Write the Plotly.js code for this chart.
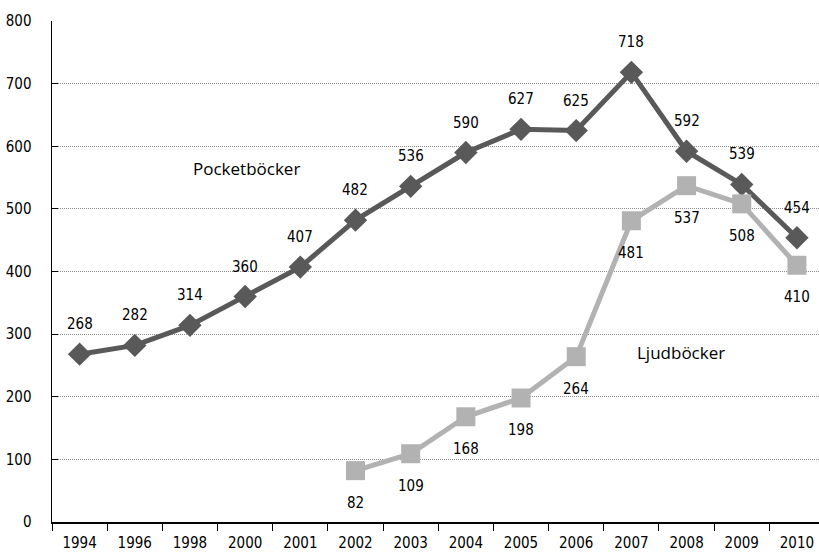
<!DOCTYPE html>
<html><head><meta charset="utf-8">
<script src="https://cdn.plot.ly/plotly-3.0.1.min.js"></script>
<style>html,body{margin:0;padding:0;background:#fff}</style>
</head><body><div id="chart" style="width:819px;height:554px"></div>
<script>
const years = ['1994','1996','1998','2000','2001','2002','2003','2004','2005','2006','2007','2008','2009','2010'];
const pocket = [268,282,314,360,407,482,536,590,627,625,718,592,539,454];
const ljudYears = ['2002','2003','2004','2005','2006','2007','2008','2009','2010'];
const ljud = [82,109,168,198,264,481,537,508,410];
const yTicks = [0,100,200,300,400,500,600,700,800];

const numFont = {family:'"DejaVu Sans Condensed", "Liberation Sans Narrow", sans-serif', size:15, color:'#000'};
const annotations = [];
years.forEach((y,i)=>annotations.push({x:i,y:pocket[i],text:String(pocket[i]),showarrow:false,yshift:30,xanchor:'center',yanchor:'middle',font:numFont}));
ljudYears.forEach((y,i)=>annotations.push({x:years.indexOf(y),y:ljud[i],text:String(ljud[i]),showarrow:false,yshift:-32,xanchor:'center',yanchor:'middle',font:numFont}));
const labFont = {family:'"Open Sans", sans-serif',size:17,color:'#000'};
annotations.push({xref:'paper',yref:'paper',x:0.254,y:0.705,xanchor:'center',yanchor:'middle',text:'Pocketböcker',showarrow:false,font:labFont});
annotations.push({xref:'paper',yref:'paper',x:0.82,y:0.339,xanchor:'center',yanchor:'middle',text:'Ljudböcker',showarrow:false,font:labFont});

const data = [
  {x:years,y:pocket,type:'scatter',mode:'lines+markers',name:'Pocketböcker',
   line:{color:'#595959',width:5},marker:{symbol:'diamond',size:18,color:'#595959'}},
  {x:ljudYears,y:ljud,type:'scatter',mode:'lines+markers',name:'Ljudböcker',
   line:{color:'#b2b2b2',width:5},marker:{symbol:'square',size:19,color:'#b2b2b2'}}
];
const layout = {
  width:819,height:554,margin:{l:52,r:0,t:21,b:32},
  paper_bgcolor:'#fff',plot_bgcolor:'#fff',showlegend:false,
  font:numFont,
  xaxis:{type:'category',categoryarray:years,categoryorder:'array',range:[-0.5,13.4],
    showline:true,linecolor:'#000',linewidth:1.5,ticks:'outside',tickson:'boundaries',ticklen:7,tickcolor:'#000',
    showgrid:false,zeroline:false,tickfont:numFont,ticklabelstandoff:6},
  yaxis:{range:[0,800],tickvals:yTicks,showline:true,linecolor:'#000',linewidth:1.5,ticks:'inside',ticklen:6,tickcolor:'#000',
    showgrid:true,gridcolor:'#8c8c8c',griddash:'1px,1px',gridwidth:1,zeroline:false,tickfont:numFont,ticklabelstandoff:16},
  annotations:annotations
};
Plotly.newPlot('chart',data,layout,{displayModeBar:false,staticPlot:true});
</script></body></html>
